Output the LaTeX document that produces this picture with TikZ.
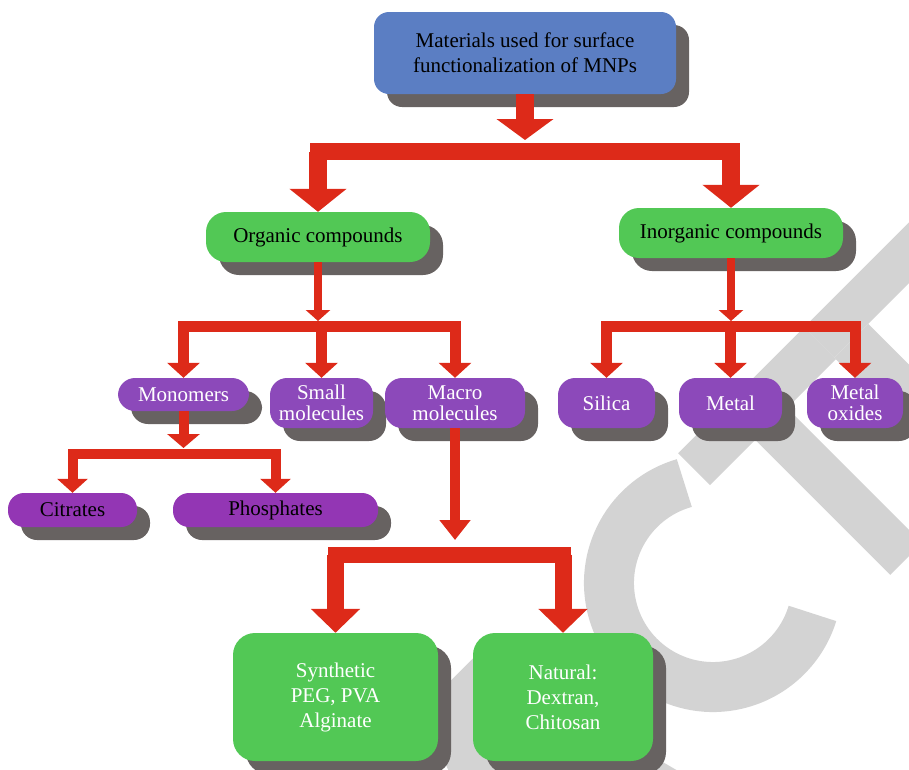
\documentclass[tikz,border=0pt]{standalone}
\usepackage{fontspec}
\setmainfont{Liberation Serif}
\usetikzlibrary{arrows.meta,shadows}

\definecolor{titleblue}{RGB}{91,126,195}
\definecolor{boxgreen}{RGB}{82,200,85}
\definecolor{boxpurple}{RGB}{140,73,186}
\definecolor{deeppurple}{RGB}{147,54,180}
\definecolor{arrowred}{RGB}{221,42,25}
\definecolor{shadowgray}{RGB}{103,98,97}
\definecolor{markgray}{RGB}{211,211,211}

\tikzset{
	box/.style={rounded corners=#1, inner sep=0pt, align=center,
		general shadow={fill=shadowgray, shadow xshift=13pt, shadow yshift=-13pt},
		font=\fontsize{21}{25}\selectfont},
	bluebox/.style={box=15pt, fill=titleblue},
	greenbox/.style={box=20pt, fill=boxgreen},
	bigbox/.style={box=22pt, fill=boxgreen, text=white},
	pillbox/.style={box=17pt, fill=boxpurple, text=white,
		font=\fontsize{21}{21}\selectfont},
	leafbox/.style={box=16pt, fill=deeppurple},
	fat/.style n args={3}{draw=arrowred, line width=#1,
		-{Triangle[width=#2, length=#3]}},
	bar/.style={draw=arrowred, line width=#1, line cap=rect},
}

\begin{document}
\begin{tikzpicture}[x=1pt, y=1pt]
\useasboundingbox (0,0) rectangle (909,-769);

\begin{scope}
	\clip (0,0) rectangle (909,-769);
	\begin{scope}[rotate=45, fill=markgray]
		\fill (-205,-800) -- (-125,-800) -- (-60,-1046) -- (-115,-1046)
			-- (-165,-875) -- (-235,-1046) -- (-295,-1046) -- cycle;
		\draw [markgray, line width=50pt] (91.9,-916.4) ++(61:104)
			arc [start angle=61, end angle=298, radius=104];
		\fill (159,-800) rectangle (337,-845);
		\fill (223,-845) rectangle (268,-1036);
		\fill (337,-800) rectangle (520,-843);
		\fill (337,-843) rectangle (385,-1036);
		\fill (385,-900) rectangle (480,-942);
	\end{scope}
\end{scope}

\node [bluebox, minimum width=302pt, minimum height=82pt] (title) at (525,-53)
	{Materials used for surface\\functionalization of MNPs};

\node [greenbox, minimum width=224pt, minimum height=50pt] (org) at (318,-237) {Organic compounds};
\node [greenbox, minimum width=224pt, minimum height=50pt] (inorg) at (731,-233) {Inorganic compounds};

\node [pillbox, minimum width=131pt, minimum height=33pt] (mono) at (183.5,-394.5) {Monomers};
\node [pillbox, minimum width=103pt, minimum height=50pt] (small) at (321.5,-403) {Small\\molecules};
\node [pillbox, minimum width=140pt, minimum height=50pt] (macro) at (455,-403) {Macro\\molecules};
\node [pillbox, minimum width=97pt, minimum height=50pt] (silica) at (606.5,-403) {Silica};
\node [pillbox, minimum width=103pt, minimum height=50pt] (metal) at (730.5,-403) {Metal};
\node [pillbox, minimum width=96pt, minimum height=50pt] (oxides) at (855,-403) {Metal\\oxides};

\node [leafbox, minimum width=129pt, minimum height=34pt] (citr) at (72.5,-510) {Citrates};
\node [leafbox, minimum width=205pt, minimum height=34pt] (phos) at (275.5,-510) {Phosphates};

\node [bigbox, minimum width=205pt, minimum height=128pt] (synth) at (335.5,-697)
	{Synthetic\\PEG, PVA\\Alginate};
\node [bigbox, minimum width=180pt, minimum height=128pt] (natur) at (563,-697)
	{Natural:\\Dextran,\\Chitosan};

\coordinate (bar1) at (0,-151.5);
\coordinate (bar2) at (0,-326.5);
\coordinate (bar3) at (0,-453.5);
\coordinate (bar4) at (0,-554.5);

\draw [fat={18pt}{56pt}{21pt}] (title.south) -- (title.south |- 0,-140);
\draw [bar=17pt] (org.north |- bar1) -- (inorg.north |- bar1);
\draw [fat={18pt}{56pt}{23pt}] (org.north |- bar1) -- (org.north);
\draw [fat={18pt}{56pt}{23pt}] (inorg.north |- bar1) -- (inorg.north);

\draw [fat={8pt}{24pt}{11pt}] (org.south) -- (org.south |- 0,-321);
\draw [bar=11pt] (mono.north |- bar2) -- (macro.north |- bar2);
\foreach \n in {mono,small,macro}
	\draw [fat={11pt}{32pt}{15pt}] (\n.north |- bar2) -- (\n.north);

\draw [fat={8pt}{24pt}{11pt}] (inorg.south) -- (inorg.south |- 0,-321);
\draw [bar=11pt] (silica.north |- bar2) -- (oxides.north |- bar2);
\foreach \n in {silica,metal,oxides}
	\draw [fat={11pt}{32pt}{15pt}] (\n.north |- bar2) -- (\n.north);

\draw [fat={10pt}{32pt}{14pt}] (mono.south) -- (mono.south |- 0,-448);
\draw [bar=10pt] (citr.north |- bar3) -- (phos.north |- bar3);
\foreach \n in {citr,phos}
	\draw [fat={10pt}{30pt}{14pt}] (\n.north |- bar3) -- (\n.north);

\draw [fat={10pt}{30pt}{20pt}] (macro.south) -- (macro.south |- 0,-540);
\draw [bar=16pt] (synth.north |- bar4) -- (natur.north |- bar4);
\foreach \n in {synth,natur}
	\draw [fat={17pt}{48pt}{24pt}] (\n.north |- bar4) -- (\n.north);
\end{tikzpicture}
\end{document}
